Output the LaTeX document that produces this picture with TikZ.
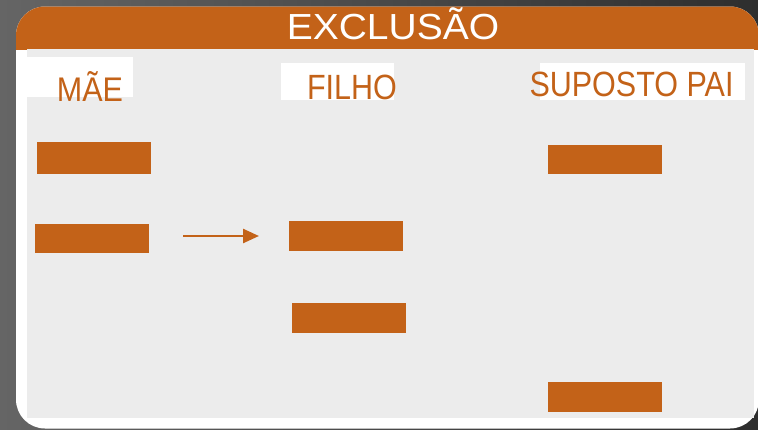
\documentclass[tikz,border=0pt]{standalone}
\usepackage{fontspec}
\setmainfont{Liberation Sans}
\usetikzlibrary{arrows.meta}
\definecolor{bgleft}{HTML}{656565}
\definecolor{bgright}{HTML}{2E2E2E}
\definecolor{org}{HTML}{C36218}
\definecolor{pnl}{HTML}{ECECEC}
\begin{document}
\begin{tikzpicture}[x=1pt,y=-1pt,
  bar/.style={fill=org, draw=none, minimum width=114pt, minimum height=30pt, inner sep=0pt},
  lbl/.style={text=org, font=\fontsize{30.5}{30}\selectfont, anchor=base, inner sep=0pt},
  ttl/.style={text=white, font=\fontsize{39}{39}\selectfont, anchor=base, inner sep=0pt},
  lblbox/.style={fill=white, draw=none},
  conn/.style={draw=org, line width=2.5pt, -{Triangle[length=16pt,width=14pt]}}]
\useasboundingbox (0,0) rectangle (758,429);
\shade[left color=bgleft, right color=bgright] (0,0) rectangle (758,429);
% panel
\fill[white, rounded corners=29pt] (16,6.5) rectangle (759,428.5);
\begin{scope}
  \clip (0,0) rectangle (758,49);
  \fill[org, rounded corners=29pt] (16,6.5) rectangle (759,428.5);
\end{scope}
\fill[pnl] (26.7,49) rectangle (754,418);
% label backgrounds
\fill[lblbox] (27,57) rectangle (133,97);
\fill[lblbox] (280.7,63.3) rectangle (394,100);
\fill[lblbox] (540,63.3) rectangle (745,100);
% title and labels
\node[ttl] (title) at (393,39) {\scalebox{1}[0.93]{EXCLUSÃO}};
\node[lbl] (mae) at (90,101) {\scalebox{1}[1.12]{MÃE}};
\node[lbl] (filho) at (352,99) {\scalebox{1}[1.15]{FILHO}};
\node[lbl] (pai) at (631.5,96.5) {\scalebox{1}[1.15]{SUPOSTO PAI}};
% bars
\node[bar, minimum height=32pt] (m1) at (94,158) {};
\node[bar, minimum height=29.5pt] (m2) at (91.5,238.7) {};
\node[bar] (f1) at (346,236) {};
\node[bar, minimum height=29.5pt] (f2) at (348.5,318) {};
\node[bar, minimum height=29.5pt] (p1) at (605.3,159.7) {};
\node[bar] (p2) at (605.3,396.5) {};
% arrow
\coordinate (a0) at (183,236);
\coordinate (a1) at (259,236);
\draw[conn] (a0) -- (a1);
\end{tikzpicture}
\end{document}
